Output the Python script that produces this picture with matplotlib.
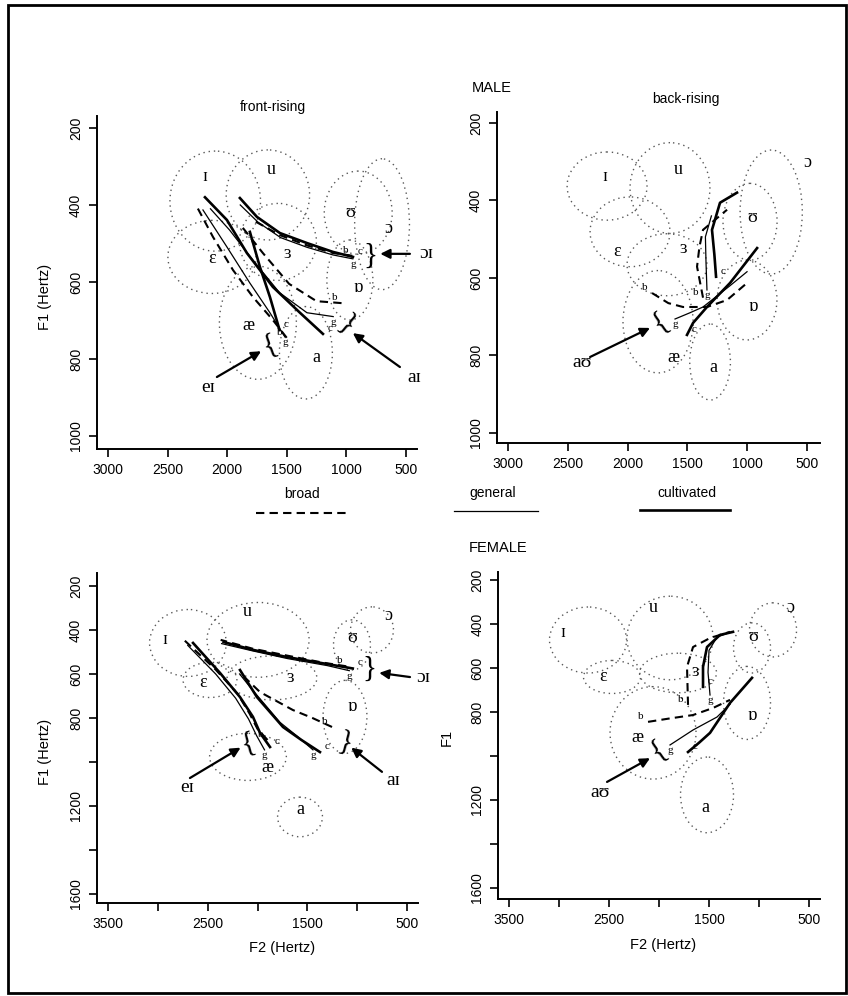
import matplotlib.pyplot as plt
from matplotlib.patches import Ellipse, Rectangle
from matplotlib.lines import Line2D

VOWELS = ["ɪ", "u", "ɛ", "ɜ", "ʊ", "ɔ", "ɒ", "æ", "a"]
ACCENTS = ["broad", "general", "cultivated"]

# vowel regions (F2 centre, F1 centre, F2 spread, F1 spread) and label spots, per panel
tl_cf2 = [2100, 1658, 2127, 1574, 900, 700, 970, 1742, 1339]
tl_cf1 = [390, 374, 535, 496, 420, 450, 595, 706, 784]
tl_sf2 = [380, 350, 370, 323, 285, 230, 193, 323, 222]
tl_sf1 = [130, 117, 95, 100, 108, 170, 104, 147, 120]
tl_lf2 = [2186, 1632, 2127, 1498, 970, 643, 903, 1825, 1247]
tl_lf1 = [327, 309, 538, 525, 420, 460, 615, 712, 797]

tr_cf2 = [2172, 1646, 1980, 1671, 977, 800, 1002, 1746, 1311]
tr_cf1 = [363, 368, 481, 566, 455, 430, 657, 713, 817]
tr_sf2 = [334, 334, 334, 334, 226, 260, 250, 293, 170]
tr_sf1 = [88, 117, 90, 80, 99, 160, 103, 132, 98]
tr_lf2 = [2189, 1579, 2089, 1537, 960, 500, 952, 1620, 1286]
tr_lf1 = [339, 321, 533, 523, 443, 303, 675, 806, 830]

bl_cf2 = [2698, 1995, 2477, 1855, 1053, 852, 1123, 2096, 1574]
bl_cf1 = [459, 445, 627, 618, 468, 400, 795, 977, 1250]
bl_sf2 = [385, 512, 270, 450, 185, 215, 220, 385, 225]
bl_sf1 = [152, 170, 80, 100, 114, 105, 166, 107, 90]
bl_lf2 = [2928, 2106, 2547, 1675, 1053, 692, 1053, 1905, 1574]
bl_lf1 = [445, 318, 641, 618, 436, 336, 750, 1023, 1218]

br_cf2 = [2710, 1890, 2470, 1810, 1070, 860, 1120, 2060, 1520]
br_cf1 = [473, 464, 641, 623, 509, 427, 759, 895, 1177]
br_sf2 = [385, 430, 285, 385, 185, 235, 235, 430, 265]
br_sf1 = [150, 190, 75, 90, 114, 123, 166, 210, 172]
br_lf2 = [2960, 2060, 2560, 1640, 1060, 690, 1070, 2220, 1540]
br_lf1 = [441, 327, 641, 618, 459, 327, 814, 914, 1232]

# diphthong trajectories: (F2 list, F1 list), first point = onset
tl_tracks = {
    ("ɔɪ", "broad"): ([950, 1110, 1330, 1560, 1780], [532, 525, 505, 478, 440]),
    ("ɔɪ", "general"): ([945, 1110, 1330, 1550, 1740, 1890], [540, 530, 510, 485, 445, 400]),
    ("ɔɪ", "cultivated"): ([944, 1112, 1330, 1557, 1750, 1893], [535, 522, 499, 473, 431, 382]),
    ("aɪ", "broad"): ([1040, 1250, 1480, 1700, 1880], [655, 650, 605, 525, 455]),
    ("aɪ", "general"): ([1110, 1330, 1560, 1780, 1980, 2140], [690, 680, 628, 545, 465, 410]),
    ("aɪ", "cultivated"): ([1196, 1389, 1616, 1834, 2002, 2186], [735, 680, 613, 525, 439, 380]),
    ("eɪ", "broad"): ([1500, 1616, 1784, 1951, 2119, 2253], [745, 699, 639, 569, 483, 405]),
    ("eɪ", "general"): ([1515, 1641, 1809, 2002, 2203], [743, 680, 603, 509, 413]),
    ("eɪ", "cultivated"): ([1560, 1641, 1725, 1809], [725, 639, 561, 470]),
}
tr_tracks = {
    ("aʊ", "broad"): ([1796, 1660, 1537, 1337, 1169, 1002], [639, 665, 675, 675, 657, 613]),
    ("aʊ", "general"): ([1604, 1480, 1370, 1144, 1002], [706, 690, 675, 620, 584]),
    ("aʊ", "cultivated"): ([1504, 1453, 1337, 1144, 918], [747, 716, 675, 613, 523]),
    ("əʉ", "broad"): ([1370, 1420, 1400, 1370, 1169], [651, 571, 520, 476, 424]),
    ("əʉ", "general"): ([1337, 1345, 1350, 1300], [631, 560, 494, 440]),
    ("əʉ", "cultivated"): ([1261, 1275, 1295, 1228, 1086], [597, 540, 476, 406, 380]),
}
bl_tracks = {
    ("ɔɪ", "broad"): ([1110, 1350, 1720, 2050, 2370], [565, 548, 515, 485, 445]),
    ("ɔɪ", "general"): ([1080, 1300, 1700, 2050, 2360], [585, 562, 530, 495, 462]),
    ("ɔɪ", "cultivated"): ([1045, 1300, 1705, 2050, 2340], [575, 555, 523, 490, 455]),
    ("aɪ", "broad"): ([1253, 1450, 1645, 1976, 2176], [841, 800, 764, 682, 595]),
    ("aɪ", "general"): ([1444, 1610, 1775, 2076, 2180], [945, 880, 820, 659, 600]),
    ("aɪ", "cultivated"): ([1374, 1560, 1745, 2006, 2176], [955, 900, 841, 705, 582]),
    ("eɪ", "broad"): ([1900, 2000, 2080, 2200, 2420, 2750], [900, 850, 780, 690, 580, 440]),
    ("eɪ", "general"): ([1930, 2010, 2090, 2220, 2420, 2700], [945, 880, 805, 710, 600, 470]),
    ("eɪ", "cultivated"): ([1875, 1975, 2046, 2176, 2377, 2647], [932, 868, 795, 705, 595, 459]),
}
br_tracks = {
    ("aʊ", "broad"): ([2110, 1900, 1660, 1460, 1290], [845, 830, 814, 782, 745]),
    ("aʊ", "general"): ([1890, 1660, 1420, 1290], [950, 882, 823, 765]),
    ("aʊ", "cultivated"): ([1710, 1600, 1490, 1290, 1070], [982, 940, 895, 759, 645]),
    ("əʉ", "broad"): ([1710, 1720, 1660, 1490, 1290], [768, 595, 505, 464, 436]),
    ("əʉ", "general"): ([1490, 1510, 1500, 1420, 1300], [723, 620, 520, 460, 440]),
    ("əʉ", "cultivated"): ([1560, 1560, 1520, 1390, 1260], [686, 595, 505, 450, 436]),
}

# callouts: label, brace, brace F2/F1, brace tilt, arrow tail F2/F1, arrow head F2/F1, label F2/F1
tl_callouts = [
    ("ɔɪ", "}", 795, 532, 0, 466, 527, 715, 527, 330, 527),
    ("aɪ", "}", 1000, 712, -40, 550, 821, 945, 733, 430, 849),
    ("eɪ", "{", 1640, 765, 20, 2086, 847, 1715, 780, 2161, 875),
]
tr_callouts = [("aʊ", "{", 1729, 713, 35, 2314, 804, 1813, 729, 2381, 819)]
bl_callouts = [
    ("ɔɪ", "}", 875, 575, 0, 471, 614, 780, 595, 340, 614),
    ("aɪ", "}", 1120, 915, -15, 752, 1045, 1060, 935, 641, 1082),
    ("eɪ", "{", 2100, 915, 15, 2678, 1073, 2170, 935, 2708, 1114),
]
br_callouts = [("aʊ", "{", 2010, 975, 35, 2520, 1118, 2090, 1010, 2590, 1168)]

SANS = ["Liberation Sans", "DejaVu Sans"]
SERIF = ["Liberation Serif", "DejaVu Serif"]
plt.rcParams["font.family"] = SANS

STYLE = {
    "broad": dict(ls=(0, (4, 2.5)), lw=1.5, color="black"),
    "general": dict(ls="-", lw=0.9, color="black"),
    "cultivated": dict(ls="-", lw=1.9, color="black"),
}
LETTER = {"broad": "b", "general": "g", "cultivated": "c"}
LETTER_SHIFT = {"broad": (-5, 4), "general": (0, -4), "cultivated": (5, 4)}

fig = plt.figure(figsize=(8.48, 9.96), dpi=100)


def draw_panel(rect, xlim, ylim, xticks, xlabels, yticks, ylabels,
               cf2, cf1, sf2, sf1, lf2, lf1, tracks, callouts):
    ax = fig.add_axes(rect)
    for i, v in enumerate(VOWELS):
        ax.add_patch(Ellipse((cf2[i], cf1[i]), 2 * sf2[i], 2 * sf1[i], fill=False,
                             ls=(0, (1, 2.8)), lw=1.0, color="0.35"))
        ax.text(lf2[i], lf1[i], v, fontsize=13, family=SERIF, ha="center", va="center")
    for (d, acc), (f2, f1) in tracks.items():
        ax.plot(f2, f1, **STYLE[acc])
        ax.annotate(LETTER[acc], (f2[0], f1[0]), xytext=LETTER_SHIFT[acc],
                    textcoords="offset points", fontsize=8, family=SERIF,
                    ha="center", va="center")
    for lab, br, bx, by, rot, tx, ty, hx, hy, lx, ly in callouts:
        ax.text(bx, by, br, fontsize=21, family=SERIF, rotation=rot,
                ha="center", va="center", clip_on=False)
        ax.annotate("", xy=(hx, hy), xytext=(tx, ty), annotation_clip=False,
                    arrowprops=dict(arrowstyle="-|>", lw=1.6, color="black",
                                    mutation_scale=14, shrinkA=0, shrinkB=0))
        ax.text(lx, ly, lab, fontsize=14, family=SERIF, ha="center", va="center",
                clip_on=False)
    ax.set_xlim(*xlim)
    ax.set_ylim(*ylim)
    ax.set_xticks(xticks)
    ax.set_xticklabels(xlabels, fontsize=10)
    ax.set_yticks(yticks)
    ax.set_yticklabels(ylabels, fontsize=10, rotation=90, va="center")
    ax.tick_params(direction="out", length=6, width=1.2, pad=4)
    for s in ["top", "right"]:
        ax.spines[s].set_visible(False)
    for s in ["left", "bottom"]:
        ax.spines[s].set_linewidth(1.4)
    return ax


top_x = [3000, 2500, 2000, 1500, 1000, 500]
top_y = [200, 400, 600, 800, 1000]
bot_x = [3500, 3000, 2500, 2000, 1500, 1000, 500]
bot_xl = ["3500", "", "2500", "", "1500", "", "500"]
bot_y = [200, 400, 600, 800, 1000, 1200, 1400, 1600]
bot_yl = ["200", "400", "600", "800", "", "1200", "", "1600"]

draw_panel([0.1144, 0.5492, 0.3773, 0.3343], (3092, 407), (1034, 169),
           top_x, [str(v) for v in top_x], top_y, [str(v) for v in top_y],
           tl_cf2, tl_cf1, tl_sf2, tl_sf1, tl_lf2, tl_lf1, tl_tracks, tl_callouts)
draw_panel([0.5861, 0.5552, 0.3809, 0.3323], (3092, 392), (1026, 172),
           top_x, [str(v) for v in top_x], top_y, [str(v) for v in top_y],
           tr_cf2, tr_cf1, tr_sf2, tr_sf1, tr_lf2, tr_lf1, tr_tracks, tr_callouts)
draw_panel([0.1144, 0.0934, 0.3785, 0.3313], (3610, 391), (1641, 141),
           bot_x, bot_xl, bot_y, bot_yl,
           bl_cf2, bl_cf1, bl_sf2, bl_sf1, bl_lf2, bl_lf1, bl_tracks, bl_callouts)
draw_panel([0.5873, 0.0974, 0.3797, 0.3283], (3610, 390), (1650, 164),
           bot_x, bot_xl, bot_y, bot_yl,
           br_cf2, br_cf1, br_sf2, br_sf1, br_lf2, br_lf1, br_tracks, br_callouts)

W, H = 848.0, 996.0


def ftext(x, y, s, **kw):
    fig.text(x / W, 1 - y / H, s, ha="center", va="center", **kw)


ftext(273, 107, "front-rising", fontsize=10)
ftext(686, 99, "back-rising", fontsize=10)
ftext(492, 88, "MALE", fontsize=10.5)
ftext(498, 548, "FEMALE", fontsize=10.5)
ftext(45, 297, "F1 (Hertz)", fontsize=10.5, rotation=90)
ftext(45, 752, "F1 (Hertz)", fontsize=10.5, rotation=90)
ftext(447, 737, "F1", fontsize=10.5, rotation=90)
ftext(282, 948, "F2 (Hertz)", fontsize=10.5)
ftext(663, 945, "F2 (Hertz)", fontsize=10.5)

# legend for the three accent groups
ftext(302, 494, "broad", fontsize=10)
ftext(493, 493, "general", fontsize=10)
ftext(687, 493, "cultivated", fontsize=10)
for acc, x0, x1, y in [("broad", 256, 346, 513), ("general", 454, 538, 511),
                       ("cultivated", 640, 730, 510)]:
    fig.add_artist(Line2D([x0 / W, x1 / W], [1 - y / H, 1 - y / H],
                          transform=fig.transFigure, **STYLE[acc]))

fig.add_artist(Rectangle((8 / W, 3 / H), 838 / W, 988 / H, transform=fig.transFigure,
                         fill=False, lw=2, color="black"))

fig.savefig("out.png", dpi=100)
